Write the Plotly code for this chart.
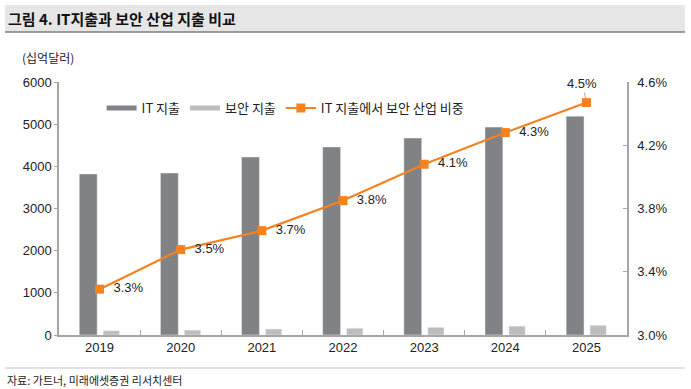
import plotly.graph_objects as go

years = ["2019", "2020", "2021", "2022", "2023", "2024", "2025"]
it_spend = [3820, 3840, 4220, 4460, 4670, 4930, 5190]
sec_spend = [100, 115, 140, 160, 180, 210, 230]
sec_share = [3.29, 3.54, 3.66, 3.85, 4.08, 4.28, 4.47]
share_labels = ["3.3%", "3.5%", "3.7%", "3.8%", "4.1%", "4.3%", "4.5%"]
left_ticks = [0, 1000, 2000, 3000, 4000, 5000, 6000]
right_ticks = [3.0, 3.4, 3.8, 4.2, 4.6]
right_tick_text = ["3.0%", "3.4%", "3.8%", "4.2%", "4.6%"]

IT_COLOR = "#808285"
SEC_COLOR = "#BDBDBD"
LINE_COLOR = "#F58220"
NUM_FONT = "Liberation Sans, Arial, Noto Sans CJK KR"
KR_FONT = "Noto Sans CJK KR, Liberation Sans"
NBSP = "\u00a0"

fig = go.Figure()
fig.add_trace(go.Bar(
    x=years, y=it_spend, name="IT 지출", marker_color=IT_COLOR,
    width=0.22, offset=-0.25, yaxis="y", showlegend=False,
))
fig.add_trace(go.Bar(
    x=years, y=sec_spend, name="보안 지출", marker_color=SEC_COLOR,
    width=0.2, offset=0.045, yaxis="y", showlegend=False,
))
# legend-only entries with wide, thin swatches like the reference
fig.add_trace(go.Scatter(x=[None], y=[None], mode="lines", name="IT 지출",
                         line=dict(color=IT_COLOR, width=5)))
fig.add_trace(go.Scatter(x=[None], y=[None], mode="lines", name="보안 지출",
                         line=dict(color=SEC_COLOR, width=5)))
fig.add_trace(go.Scatter(
    x=years, y=sec_share, name="IT 지출에서 보안 산업 비중",
    mode="lines+markers+text", yaxis="y2",
    line=dict(color=LINE_COLOR, width=2.2),
    marker=dict(symbol="square", size=9, color=LINE_COLOR),
    text=[NBSP + NBSP + t for t in share_labels[:-1]] + [""],
    textposition="middle right",
    textfont=dict(family=NUM_FONT, size=13, color="#222222"),
))

last = len(years) - 1
fig.add_annotation(
    x=last, y=sec_share[last], xref="x", yref="y2",
    text=share_labels[last], showarrow=True, arrowhead=0, arrowwidth=1,
    arrowcolor="#AAAAAA", ax=-4, ay=-19, standoff=4,
    font=dict(family=NUM_FONT, size=13, color="#222222"),
)

# Title band
fig.add_shape(type="rect", xref="paper", yref="paper",
              x0=-0.095, x1=1.102, y0=1.1976, y1=1.304,
              fillcolor="#E6E6E6", line=dict(width=0), layer="below")
fig.add_shape(type="line", xref="paper", yref="paper",
              x0=-0.095, x1=1.102, y0=1.1976, y1=1.1976,
              line=dict(color="#7F7F7F", width=1.5))
fig.add_annotation(xref="paper", yref="paper", x=-0.093, y=1.251,
                   xanchor="left", yanchor="middle", showarrow=False,
                   text="<b>그림 4. IT지출과 보안 산업 지출 비교</b>",
                   font=dict(family=KR_FONT, size=15, color="#111111"))
fig.add_annotation(xref="paper", yref="paper", x=-0.069, y=1.096,
                   xanchor="left", yanchor="middle", showarrow=False,
                   text="(십억달러)",
                   font=dict(family=KR_FONT, size=12, color="#222222"))
# Footer
fig.add_shape(type="line", xref="paper", yref="paper",
              x0=-0.095, x1=1.102, y0=-0.13, y1=-0.13,
              line=dict(color="#D9D9D9", width=1.5))
fig.add_annotation(xref="paper", yref="paper", x=-0.095, y=-0.178,
                   xanchor="left", yanchor="middle", showarrow=False,
                   text="자료: 가트너, 미래에셋증권 리서치센터",
                   font=dict(family=KR_FONT, size=11, color="#222222"))

fig.update_layout(
    width=691, height=389,
    margin=dict(l=59, r=64, t=82, b=54),
    paper_bgcolor="white", plot_bgcolor="white",
    showlegend=True,
    legend=dict(orientation="h", x=0.075, y=0.897, xanchor="left", yanchor="middle",
                font=dict(family=KR_FONT, size=13, color="#222222"),
                bgcolor="rgba(0,0,0,0)", itemwidth=30, tracegroupgap=0,
                traceorder="normal"),
    barmode="overlay",
    xaxis=dict(type="category", showgrid=False, showline=True, linecolor="#A6A6A6",
               linewidth=1.5, ticks="inside", tickson="boundaries", ticklen=5,
               tickcolor="#A6A6A6",
               tickfont=dict(family=NUM_FONT, size=13, color="#222222"),
               range=[-0.5, 6.5]),
    yaxis=dict(range=[0, 6000], tickvals=left_ticks, showgrid=False, zeroline=False,
               showline=True, linecolor="#A6A6A6", linewidth=1.5,
               ticks="outside", ticklen=3, tickcolor="#A6A6A6",
               tickfont=dict(family=NUM_FONT, size=13, color="#222222")),
    yaxis2=dict(range=[3.0, 4.6], tickvals=right_ticks, ticktext=right_tick_text,
                overlaying="y", side="right", showgrid=False, zeroline=False,
                showline=True, linecolor="#A6A6A6", linewidth=1.5,
                ticks="inside", ticklen=4, tickcolor="#A6A6A6",
                ticklabelstandoff=6,
                tickfont=dict(family=NUM_FONT, size=13, color="#222222")),
)

fig.write_html("out.html", config={"displayModeBar": False},
               post_script="document.body.style.margin='0';")
